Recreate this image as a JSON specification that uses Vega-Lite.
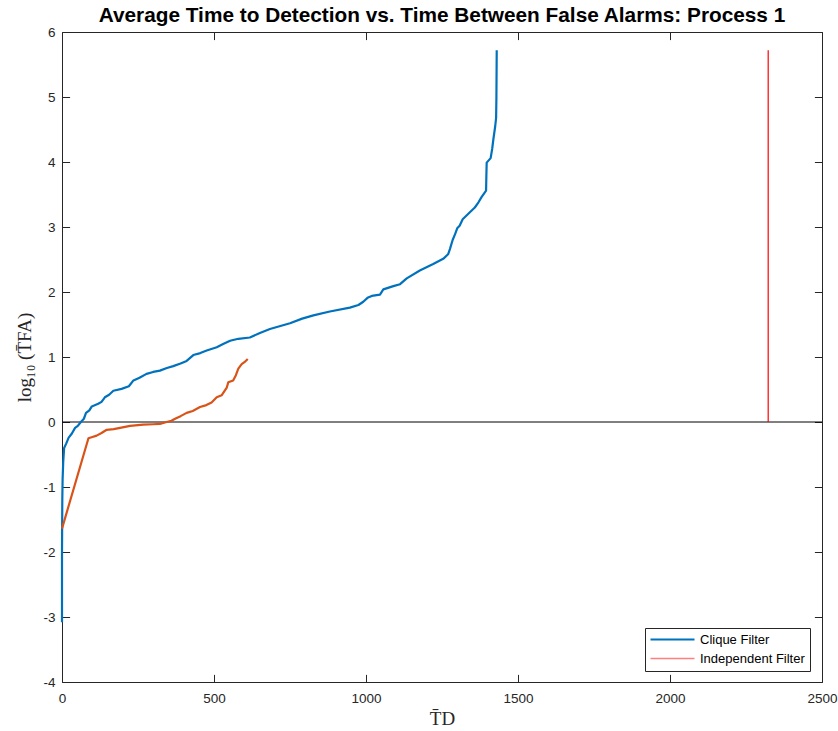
{
  "$schema": "https://vega.github.io/schema/vega-lite/v6.json",
  "autosize": "none",
  "width": 760,
  "height": 650,
  "padding": {"left": 62, "top": 32, "right": 16, "bottom": 49},
  "background": "white",
  "title": {
    "text": "Average Time to Detection vs. Time Between False Alarms: Process 1",
    "font": "Liberation Sans",
    "fontSize": 20.8,
    "fontWeight": "bold",
    "color": "black",
    "anchor": "middle",
    "frame": "group",
    "baseline": "alphabetic",
    "offset": 5,
    "dy": 23
  },
  "config": {
    "view": {"stroke": "#262626", "strokeWidth": 1},
    "axis": {
      "grid": false,
      "domain": false,
      "offset": -7.6,
      "tickColor": "#262626",
      "tickWidth": 1,
      "tickSize": 7.6,
      "labelFlush": false,
      "labelColor": "#262626",
      "labelFont": "Liberation Sans",
      "labelFontSize": 13.5,
      "titleFont": "Liberation Serif",
      "titleFontSize": 19,
      "titleFontWeight": "normal",
      "titleColor": "#262626"
    },
    "legend": {
      "orient": "none",
      "legendX": 583,
      "legendY": 596,
      "strokeColor": "#262626",
      "fillColor": "white",
      "padding": 5,
      "labelFont": "Liberation Sans",
      "labelFontSize": 13,
      "labelColor": "black",
      "symbolType": "M-4.4,0H4.4",
      "symbolSize": 100,
      "symbolOffset": 16,
      "labelOffset": 21,
      "rowPadding": 5
    }
  },
  "datasets": {
    "curves": [
      {"series": "Clique Filter", "i": 0, "t_d": 0, "log_tfa": -3.08},
      {"series": "Clique Filter", "i": 1, "t_d": 0, "log_tfa": -2.0},
      {"series": "Clique Filter", "i": 2, "t_d": 1, "log_tfa": -1.2},
      {"series": "Clique Filter", "i": 3, "t_d": 2, "log_tfa": -0.88},
      {"series": "Clique Filter", "i": 4, "t_d": 4, "log_tfa": -0.62},
      {"series": "Clique Filter", "i": 5, "t_d": 7, "log_tfa": -0.4},
      {"series": "Clique Filter", "i": 6, "t_d": 13, "log_tfa": -0.34},
      {"series": "Clique Filter", "i": 7, "t_d": 22, "log_tfa": -0.24},
      {"series": "Clique Filter", "i": 8, "t_d": 32, "log_tfa": -0.18},
      {"series": "Clique Filter", "i": 9, "t_d": 43, "log_tfa": -0.09},
      {"series": "Clique Filter", "i": 10, "t_d": 52, "log_tfa": -0.06},
      {"series": "Clique Filter", "i": 11, "t_d": 62, "log_tfa": 0.0},
      {"series": "Clique Filter", "i": 12, "t_d": 72, "log_tfa": 0.05},
      {"series": "Clique Filter", "i": 13, "t_d": 79, "log_tfa": 0.14},
      {"series": "Clique Filter", "i": 14, "t_d": 90, "log_tfa": 0.18},
      {"series": "Clique Filter", "i": 15, "t_d": 98, "log_tfa": 0.24},
      {"series": "Clique Filter", "i": 16, "t_d": 119, "log_tfa": 0.28},
      {"series": "Clique Filter", "i": 17, "t_d": 130, "log_tfa": 0.31},
      {"series": "Clique Filter", "i": 18, "t_d": 141, "log_tfa": 0.38},
      {"series": "Clique Filter", "i": 19, "t_d": 155, "log_tfa": 0.42},
      {"series": "Clique Filter", "i": 20, "t_d": 169, "log_tfa": 0.48},
      {"series": "Clique Filter", "i": 21, "t_d": 196, "log_tfa": 0.51},
      {"series": "Clique Filter", "i": 22, "t_d": 220, "log_tfa": 0.55},
      {"series": "Clique Filter", "i": 23, "t_d": 235, "log_tfa": 0.64},
      {"series": "Clique Filter", "i": 24, "t_d": 255, "log_tfa": 0.68},
      {"series": "Clique Filter", "i": 25, "t_d": 278, "log_tfa": 0.74},
      {"series": "Clique Filter", "i": 26, "t_d": 300, "log_tfa": 0.77},
      {"series": "Clique Filter", "i": 27, "t_d": 322, "log_tfa": 0.79},
      {"series": "Clique Filter", "i": 28, "t_d": 345, "log_tfa": 0.83},
      {"series": "Clique Filter", "i": 29, "t_d": 366, "log_tfa": 0.86},
      {"series": "Clique Filter", "i": 30, "t_d": 390, "log_tfa": 0.9},
      {"series": "Clique Filter", "i": 31, "t_d": 410, "log_tfa": 0.94},
      {"series": "Clique Filter", "i": 32, "t_d": 432, "log_tfa": 1.03},
      {"series": "Clique Filter", "i": 33, "t_d": 455, "log_tfa": 1.06},
      {"series": "Clique Filter", "i": 34, "t_d": 476, "log_tfa": 1.1},
      {"series": "Clique Filter", "i": 35, "t_d": 509, "log_tfa": 1.15},
      {"series": "Clique Filter", "i": 36, "t_d": 530, "log_tfa": 1.2},
      {"series": "Clique Filter", "i": 37, "t_d": 553, "log_tfa": 1.25},
      {"series": "Clique Filter", "i": 38, "t_d": 580, "log_tfa": 1.28},
      {"series": "Clique Filter", "i": 39, "t_d": 618, "log_tfa": 1.3},
      {"series": "Clique Filter", "i": 40, "t_d": 651, "log_tfa": 1.37},
      {"series": "Clique Filter", "i": 41, "t_d": 684, "log_tfa": 1.43},
      {"series": "Clique Filter", "i": 42, "t_d": 750, "log_tfa": 1.52},
      {"series": "Clique Filter", "i": 43, "t_d": 790, "log_tfa": 1.59},
      {"series": "Clique Filter", "i": 44, "t_d": 827, "log_tfa": 1.64},
      {"series": "Clique Filter", "i": 45, "t_d": 881, "log_tfa": 1.7},
      {"series": "Clique Filter", "i": 46, "t_d": 947, "log_tfa": 1.76},
      {"series": "Clique Filter", "i": 47, "t_d": 975, "log_tfa": 1.8},
      {"series": "Clique Filter", "i": 48, "t_d": 991, "log_tfa": 1.85},
      {"series": "Clique Filter", "i": 49, "t_d": 1005, "log_tfa": 1.91},
      {"series": "Clique Filter", "i": 50, "t_d": 1019, "log_tfa": 1.94},
      {"series": "Clique Filter", "i": 51, "t_d": 1046, "log_tfa": 1.96},
      {"series": "Clique Filter", "i": 52, "t_d": 1057, "log_tfa": 2.04},
      {"series": "Clique Filter", "i": 53, "t_d": 1090, "log_tfa": 2.09},
      {"series": "Clique Filter", "i": 54, "t_d": 1112, "log_tfa": 2.12},
      {"series": "Clique Filter", "i": 55, "t_d": 1134, "log_tfa": 2.21},
      {"series": "Clique Filter", "i": 56, "t_d": 1177, "log_tfa": 2.33},
      {"series": "Clique Filter", "i": 57, "t_d": 1221, "log_tfa": 2.43},
      {"series": "Clique Filter", "i": 58, "t_d": 1254, "log_tfa": 2.51},
      {"series": "Clique Filter", "i": 59, "t_d": 1270, "log_tfa": 2.58},
      {"series": "Clique Filter", "i": 60, "t_d": 1276, "log_tfa": 2.66},
      {"series": "Clique Filter", "i": 61, "t_d": 1285, "log_tfa": 2.8},
      {"series": "Clique Filter", "i": 62, "t_d": 1293, "log_tfa": 2.89},
      {"series": "Clique Filter", "i": 63, "t_d": 1300, "log_tfa": 2.98},
      {"series": "Clique Filter", "i": 64, "t_d": 1308, "log_tfa": 3.02},
      {"series": "Clique Filter", "i": 65, "t_d": 1318, "log_tfa": 3.12},
      {"series": "Clique Filter", "i": 66, "t_d": 1340, "log_tfa": 3.22},
      {"series": "Clique Filter", "i": 67, "t_d": 1358, "log_tfa": 3.3},
      {"series": "Clique Filter", "i": 68, "t_d": 1370, "log_tfa": 3.38},
      {"series": "Clique Filter", "i": 69, "t_d": 1380, "log_tfa": 3.46},
      {"series": "Clique Filter", "i": 70, "t_d": 1395, "log_tfa": 3.56},
      {"series": "Clique Filter", "i": 71, "t_d": 1396, "log_tfa": 3.8},
      {"series": "Clique Filter", "i": 72, "t_d": 1397, "log_tfa": 3.99},
      {"series": "Clique Filter", "i": 73, "t_d": 1410, "log_tfa": 4.06},
      {"series": "Clique Filter", "i": 74, "t_d": 1415, "log_tfa": 4.2},
      {"series": "Clique Filter", "i": 75, "t_d": 1419, "log_tfa": 4.35},
      {"series": "Clique Filter", "i": 76, "t_d": 1425, "log_tfa": 4.55},
      {"series": "Clique Filter", "i": 77, "t_d": 1428, "log_tfa": 4.68},
      {"series": "Clique Filter", "i": 78, "t_d": 1429, "log_tfa": 5.0},
      {"series": "Clique Filter", "i": 79, "t_d": 1430, "log_tfa": 5.72},
      {"series": "Independent Filter", "i": 0, "t_d": 2323, "log_tfa": 0.0},
      {"series": "Independent Filter", "i": 1, "t_d": 2323, "log_tfa": 5.72},
      {"series": "data3", "i": 0, "t_d": 0, "log_tfa": -1.64},
      {"series": "data3", "i": 1, "t_d": 87, "log_tfa": -0.25},
      {"series": "data3", "i": 2, "t_d": 100, "log_tfa": -0.23},
      {"series": "data3", "i": 3, "t_d": 114, "log_tfa": -0.21},
      {"series": "data3", "i": 4, "t_d": 130, "log_tfa": -0.17},
      {"series": "data3", "i": 5, "t_d": 147, "log_tfa": -0.12},
      {"series": "data3", "i": 6, "t_d": 170, "log_tfa": -0.11},
      {"series": "data3", "i": 7, "t_d": 191, "log_tfa": -0.09},
      {"series": "data3", "i": 8, "t_d": 224, "log_tfa": -0.06},
      {"series": "data3", "i": 9, "t_d": 267, "log_tfa": -0.04},
      {"series": "data3", "i": 10, "t_d": 300, "log_tfa": -0.035},
      {"series": "data3", "i": 11, "t_d": 322, "log_tfa": -0.03},
      {"series": "data3", "i": 12, "t_d": 344, "log_tfa": 0.0},
      {"series": "data3", "i": 13, "t_d": 360, "log_tfa": 0.02},
      {"series": "data3", "i": 14, "t_d": 372, "log_tfa": 0.05},
      {"series": "data3", "i": 15, "t_d": 390, "log_tfa": 0.09},
      {"series": "data3", "i": 16, "t_d": 410, "log_tfa": 0.14},
      {"series": "data3", "i": 17, "t_d": 430, "log_tfa": 0.17},
      {"series": "data3", "i": 18, "t_d": 454, "log_tfa": 0.23},
      {"series": "data3", "i": 19, "t_d": 475, "log_tfa": 0.26},
      {"series": "data3", "i": 20, "t_d": 492, "log_tfa": 0.3},
      {"series": "data3", "i": 21, "t_d": 509, "log_tfa": 0.38},
      {"series": "data3", "i": 22, "t_d": 525, "log_tfa": 0.41},
      {"series": "data3", "i": 23, "t_d": 542, "log_tfa": 0.53},
      {"series": "data3", "i": 24, "t_d": 547, "log_tfa": 0.61},
      {"series": "data3", "i": 25, "t_d": 563, "log_tfa": 0.64},
      {"series": "data3", "i": 26, "t_d": 572, "log_tfa": 0.72},
      {"series": "data3", "i": 27, "t_d": 580, "log_tfa": 0.82},
      {"series": "data3", "i": 28, "t_d": 591, "log_tfa": 0.89},
      {"series": "data3", "i": 29, "t_d": 600, "log_tfa": 0.92},
      {"series": "data3", "i": 30, "t_d": 611, "log_tfa": 0.97}
    ],
    "zero_line": [
      {"t_start": 0, "t_end": 2500, "level": 0}
    ]
  },
  "layer": [
    {
      "data": {"name": "zero_line"},
      "mark": {"type": "rule", "color": "black", "strokeWidth": 1},
      "encoding": {
        "x": {
          "field": "t_start",
          "type": "quantitative",
          "scale": {"domain": [0, 2500], "nice": false, "zero": false},
          "axis": {"orient": "top", "values": [0, 500, 1000, 1500, 2000, 2500], "labels": false, "title": null}
        },
        "x2": {"field": "t_end"},
        "y": {
          "field": "level",
          "type": "quantitative",
          "scale": {"domain": [-4, 6], "nice": false, "zero": false},
          "axis": {"orient": "right", "values": [-4, -3, -2, -1, 0, 1, 2, 3, 4, 5, 6], "labels": false, "title": null}
        }
      }
    },
    {
      "data": {"name": "curves"},
      "mark": {"type": "line", "clip": false, "strokeJoin": "round"},
      "encoding": {
        "x": {
          "field": "t_d",
          "type": "quantitative",
          "axis": {
            "orient": "bottom",
            "values": [0, 500, 1000, 1500, 2000, 2500],
            "format": "d",
            "labelPadding": 9,
            "title": "T̄D",
            "titlePadding": 5
          }
        },
        "y": {
          "field": "log_tfa",
          "type": "quantitative",
          "axis": {
            "orient": "left",
            "values": [-4, -3, -2, -1, 0, 1, 2, 3, 4, 5, 6],
            "labelExpr": "'' + datum.value",
            "labelPadding": 7,
            "title": "log₁₀ (T̄FA)",
            "titlePadding": 8
          }
        },
        "order": {"field": "i", "type": "quantitative"},
        "color": {
          "field": "series",
          "type": "nominal",
          "scale": {
            "domain": ["Clique Filter", "Independent Filter", "data3"],
            "range": ["#0072BD", "#FF0000", "#D95319"]
          },
          "legend": {
            "title": null,
            "values": ["Clique Filter", "Independent Filter"],
            "encode": {
              "symbols": {
                "update": {
                  "strokeWidth": {"signal": "datum.value === 'Clique Filter' ? 2.2 : 1.5"},
                  "strokeOpacity": {"signal": "datum.value === 'Clique Filter' ? 1 : 0.5"}
                }
              }
            }
          }
        },
        "strokeWidth": {
          "condition": {"test": "datum.series === 'Independent Filter'", "value": 1.2},
          "value": 2.2
        }
      }
    }
  ],
  "resolve": {"axis": {"x": "independent", "y": "independent"}}
}
